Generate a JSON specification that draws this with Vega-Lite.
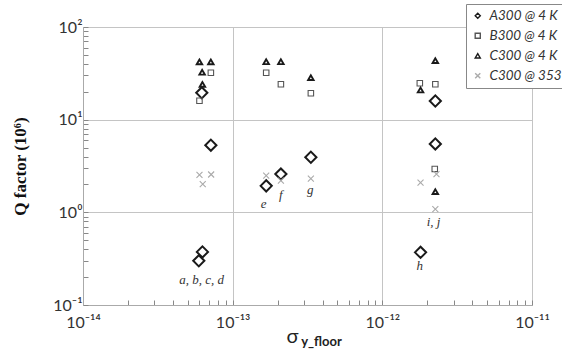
{
  "$schema": "https://vega.github.io/schema/vega-lite/v6.json",
  "width": 449,
  "height": 278,
  "autosize": {"type": "none"},
  "padding": {"left": 83, "top": 27, "right": 30, "bottom": 53},
  "background": "white",
  "config": {"view": {"stroke": "#c4c4c4", "strokeWidth": 1}},
  "datasets": {
    "pts": [
      {"series": "A300 @ 4 K", "sigma": 6.22e-14, "q": 19.5},
      {"series": "A300 @ 4 K", "sigma": 7.15e-14, "q": 5.3},
      {"series": "A300 @ 4 K", "sigma": 6.28e-14, "q": 0.374},
      {"series": "A300 @ 4 K", "sigma": 5.94e-14, "q": 0.30},
      {"series": "A300 @ 4 K", "sigma": 1.675e-13, "q": 1.93},
      {"series": "A300 @ 4 K", "sigma": 2.1e-13, "q": 2.59},
      {"series": "A300 @ 4 K", "sigma": 3.33e-13, "q": 3.93},
      {"series": "A300 @ 4 K", "sigma": 1.8e-12, "q": 0.37},
      {"series": "A300 @ 4 K", "sigma": 2.26e-12, "q": 15.9},
      {"series": "A300 @ 4 K", "sigma": 2.26e-12, "q": 5.47},
      {"series": "B300 @ 4 K", "sigma": 7.15e-14, "q": 32.1},
      {"series": "B300 @ 4 K", "sigma": 6.0e-14, "q": 16.0},
      {"series": "B300 @ 4 K", "sigma": 1.675e-13, "q": 32.1},
      {"series": "B300 @ 4 K", "sigma": 2.1e-13, "q": 24.1},
      {"series": "B300 @ 4 K", "sigma": 3.33e-13, "q": 19.3},
      {"series": "B300 @ 4 K", "sigma": 1.78e-12, "q": 24.7},
      {"series": "B300 @ 4 K", "sigma": 2.26e-12, "q": 24.1},
      {"series": "B300 @ 4 K", "sigma": 2.24e-12, "q": 2.94},
      {"series": "C300 @ 4 K", "sigma": 6.0e-14, "q": 42.0},
      {"series": "C300 @ 4 K", "sigma": 7.15e-14, "q": 42.0},
      {"series": "C300 @ 4 K", "sigma": 6.25e-14, "q": 32.5},
      {"series": "C300 @ 4 K", "sigma": 6.28e-14, "q": 24.0},
      {"series": "C300 @ 4 K", "sigma": 1.675e-13, "q": 42.2},
      {"series": "C300 @ 4 K", "sigma": 2.1e-13, "q": 42.2},
      {"series": "C300 @ 4 K", "sigma": 3.33e-13, "q": 28.4},
      {"series": "C300 @ 4 K", "sigma": 2.26e-12, "q": 43.3},
      {"series": "C300 @ 4 K", "sigma": 1.8e-12, "q": 20.9},
      {"series": "C300 @ 4 K", "sigma": 2.26e-12, "q": 1.67},
      {"series": "C300 @ 353 K", "sigma": 6.0e-14, "q": 2.53},
      {"series": "C300 @ 353 K", "sigma": 7.18e-14, "q": 2.56},
      {"series": "C300 @ 353 K", "sigma": 6.31e-14, "q": 2.02},
      {"series": "C300 @ 353 K", "sigma": 1.675e-13, "q": 2.49},
      {"series": "C300 @ 353 K", "sigma": 2.1e-13, "q": 2.20},
      {"series": "C300 @ 353 K", "sigma": 3.33e-13, "q": 2.31},
      {"series": "C300 @ 353 K", "sigma": 2.3e-12, "q": 2.59},
      {"series": "C300 @ 353 K", "sigma": 1.8e-12, "q": 2.09},
      {"series": "C300 @ 353 K", "sigma": 2.26e-12, "q": 1.08}
    ],
    "labels": [
      {"label": "a, b, c, d", "sigma": 6.2e-14, "q": 0.187},
      {"label": "e", "sigma": 1.61e-13, "q": 1.23},
      {"label": "f", "sigma": 2.1e-13, "q": 1.54},
      {"label": "g", "sigma": 3.3e-13, "q": 1.75},
      {"label": "h", "sigma": 1.78e-12, "q": 0.264},
      {"label": "i, j", "sigma": 2.2e-12, "q": 0.787}
    ]
  },
  "resolve": {"axis": {"x": "independent"}},
  "layer": [
    {
      "data": {"name": "pts"},
      "mark": {"type": "point", "filled": false, "opacity": 1},
      "encoding": {
        "x": {
          "field": "sigma", "type": "quantitative",
          "scale": {"type": "log", "domain": [1e-14, 1e-11], "nice": false},
          "axis": {
            "orient": "bottom",
            "values": [1e-14,2e-14,3e-14,4e-14,5e-14,6e-14,7e-14,8e-14,9e-14,1e-13,2e-13,3e-13,4e-13,5e-13,6e-13,7e-13,8e-13,9e-13,1e-12,2e-12,3e-12,4e-12,5e-12,6e-12,7e-12,8e-12,9e-12,1e-11],
            "labelExpr": "abs(log(datum.value)/LN10 + 14) < 0.001 ? '10⁻¹⁴' : (abs(log(datum.value)/LN10 + 13) < 0.001 ? '10⁻¹³' : (abs(log(datum.value)/LN10 + 12) < 0.001 ? '10⁻¹²' : (abs(log(datum.value)/LN10 + 11) < 0.001 ? '10⁻¹¹' : '')))",
            "labelFont": "Lato", "labelFontSize": 16, "labelColor": "#333", "labelPadding": 14, "labelFlush": false, "labelOverlap": false,
            "grid": true, "gridColor": "#c4c4c4", "gridWidth": 1,
            "gridOpacity": {"condition": {"test": "abs(log(datum.value)/LN10 - round(log(datum.value)/LN10)) < 0.001", "value": 1}, "value": 0},
            "ticks": true, "tickSize": -5, "tickColor": "#888", "tickWidth": 1,
            "domainColor": "#aaa",
            "title": "σ", "titleFont": "Lato", "titleFontSize": 20, "titleFontWeight": "normal", "titleColor": "#222",
            "titleX": 209, "titleY": 21, "titleBaseline": "top"
          }
        },
        "y": {
          "field": "q", "type": "quantitative",
          "scale": {"type": "log", "domain": [0.1, 100], "nice": false},
          "axis": {
            "values": [0.1,0.2,0.3,0.4,0.5,0.6,0.7,0.8,0.9,1,2,3,4,5,6,7,8,9,10,20,30,40,50,60,70,80,90,100],
            "labelExpr": "abs(log(datum.value)/LN10 + 1) < 0.001 ? '10⁻¹' : (abs(log(datum.value)/LN10) < 0.001 ? '10⁰' : (abs(log(datum.value)/LN10 - 1) < 0.001 ? '10¹' : (abs(log(datum.value)/LN10 - 2) < 0.001 ? '10²' : '')))",
            "labelFont": "Lato", "labelFontSize": 16, "labelColor": "#333", "labelPadding": 6, "labelFlush": false, "labelOverlap": false,
            "grid": true, "gridColor": "#c4c4c4", "gridWidth": 1,
            "gridOpacity": {"condition": {"test": "abs(log(datum.value)/LN10 - round(log(datum.value)/LN10)) < 0.001", "value": 1}, "value": 0},
            "ticks": true, "tickSize": -5, "tickColor": "#888", "tickWidth": 1,
            "domainColor": "#aaa",
            "title": "Q factor (10⁶)", "titleFont": "Liberation Serif", "titleFontSize": 17, "titleFontWeight": "bold", "titleColor": "#111",
            "titlePadding": 23
          }
        },
        "shape": {
          "field": "series", "type": "nominal",
          "scale": {"domain": ["A300 @ 4 K", "B300 @ 4 K", "C300 @ 4 K", "C300 @ 353 K"], "range": ["diamond", "square", "triangle-up", "M-1,-1L1,1M-1,1L1,-1"]},
          "legend": {
            "title": null, "orient": "none", "legendX": 383, "legendY": -23,
            "strokeColor": "#888", "fillColor": "white", "padding": 5,
            "labelFont": "Lato", "labelFontStyle": "italic", "labelFontSize": 13.5, "labelColor": "#333", "labelLimit": 300,
            "symbolSize": 26, "symbolStrokeWidth": 1.4, "rowPadding": 5, "labelOffset": 5
          }
        },
        "color": {
          "field": "series", "type": "nominal",
          "scale": {"domain": ["A300 @ 4 K", "B300 @ 4 K", "C300 @ 4 K", "C300 @ 353 K"], "range": ["#1a1a1a", "#555555", "#1a1a1a", "#aaaaaa"]},
          "legend": {
            "title": null, "orient": "none", "legendX": 383, "legendY": -23,
            "strokeColor": "#888", "fillColor": "white", "padding": 5,
            "labelFont": "Lato", "labelFontStyle": "italic", "labelFontSize": 13.5, "labelColor": "#333", "labelLimit": 300,
            "symbolSize": 26, "symbolStrokeWidth": 1.4, "rowPadding": 5, "labelOffset": 5
          }
        },
        "size": {
          "condition": [
            {"test": "datum.series === 'A300 @ 4 K'", "value": 125},
            {"test": "datum.series === 'B300 @ 4 K'", "value": 30},
            {"test": "datum.series === 'C300 @ 4 K'", "value": 30}
          ],
          "value": 36
        },
        "strokeWidth": {
          "condition": [
            {"test": "datum.series === 'A300 @ 4 K'", "value": 2},
            {"test": "datum.series === 'C300 @ 4 K'", "value": 1.9}
          ],
          "value": 1.1
        }
      }
    },
    {
      "data": {"name": "labels"},
      "mark": {"type": "text", "font": "Liberation Serif", "fontStyle": "italic", "fontSize": 13, "color": "#333", "align": "center", "baseline": "middle"},
      "encoding": {
        "x": {
          "field": "sigma", "type": "quantitative",
          "scale": {"type": "log", "domain": [1e-14, 1e-11], "nice": false},
          "axis": {
            "orient": "bottom", "labels": false, "ticks": false, "domain": false, "grid": false,
            "title": "y_floor", "titleFont": "Lato", "titleFontSize": 13, "titleFontWeight": "bold", "titleColor": "#222",
            "titleX": 238, "titleY": 30, "titleBaseline": "top"
          }
        },
        "y": {
          "field": "q", "type": "quantitative",
          "scale": {"type": "log", "domain": [0.1, 100], "nice": false}
        },
        "text": {"field": "label", "type": "nominal"}
      }
    }
  ]
}
